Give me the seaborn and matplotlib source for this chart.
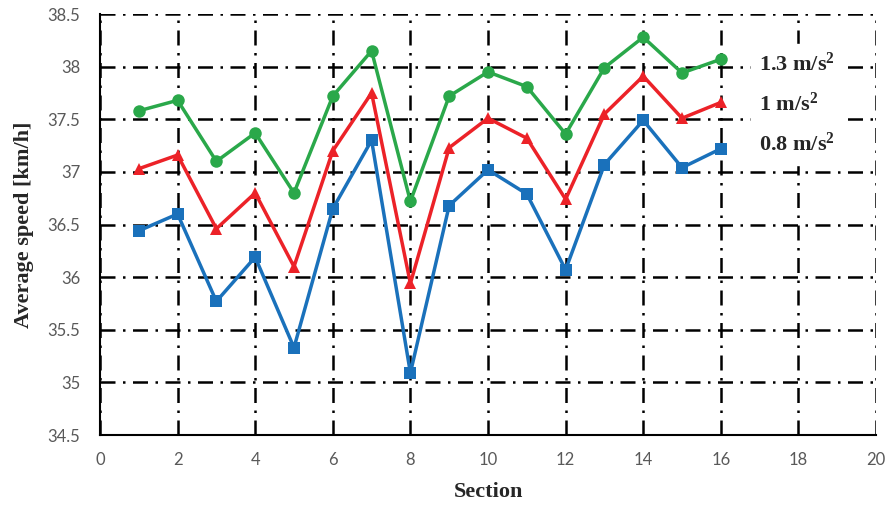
import matplotlib
matplotlib.use("Agg")
import matplotlib.pyplot as plt
from matplotlib.ticker import FuncFormatter, MultipleLocator
import seaborn as sns
import pandas as pd

sections = list(range(1, 17))
speed_13 = [37.58, 37.68, 37.10, 37.37, 36.80, 37.72, 38.15, 36.72,
            37.72, 37.95, 37.81, 37.36, 37.99, 38.28, 37.94, 38.07]
speed_10 = [37.03, 37.16, 36.46, 36.80, 36.10, 37.20, 37.75, 35.94,
            37.23, 37.51, 37.32, 36.74, 37.55, 37.91, 37.51, 37.66]
speed_08 = [36.44, 36.60, 35.77, 36.19, 35.33, 36.65, 37.30, 35.09,
            36.68, 37.02, 36.79, 36.07, 37.07, 37.49, 37.04, 37.22]
labels = [r"1.3 m/s$^{\mathbf{2}}$", r"1 m/s$^{\mathbf{2}}$", r"0.8 m/s$^{\mathbf{2}}$"]

df = pd.concat([
    pd.DataFrame({"Section": sections, "speed": s, "accel": lab})
    for s, lab in zip([speed_13, speed_10, speed_08], labels)
])

sns.set_style("white")
plt.rcParams["font.family"] = ["Lato", "DejaVu Sans"]
plt.rcParams["mathtext.fontset"] = "custom"
plt.rcParams["mathtext.rm"] = "Liberation Serif:bold"
plt.rcParams["mathtext.bf"] = "Liberation Serif:bold"
plt.rcParams["mathtext.it"] = "Liberation Serif:bold"

fig = plt.figure(figsize=(8.91, 5.08), dpi=100)
ax = fig.add_axes([0.1122, 0.1437, 0.871, 0.8287])

palette = {labels[0]: "#2aa84a", labels[1]: "#ec2228", labels[2]: "#1a71bb"}
markers = {labels[0]: "o", labels[1]: "^", labels[2]: "s"}
sns.lineplot(data=df, x="Section", y="speed", hue="accel", style="accel",
             palette=palette, markers=markers, dashes=False, markersize=9,
             linewidth=2.5, markeredgewidth=0, ax=ax, zorder=3)

ax.set_xlim(0, 20)
ax.set_ylim(34.5, 38.5)
ax.xaxis.set_major_locator(MultipleLocator(2))
ax.yaxis.set_major_locator(MultipleLocator(0.5))
ax.yaxis.set_major_formatter(FuncFormatter(lambda v, p: f"{v:g}"))
ax.grid(True, color="black", linewidth=1.8, linestyle=(0, (6, 3, 1, 3)))
ax.set_axisbelow(True)
for side in ["top", "right"]:
    ax.spines[side].set_visible(False)
for side in ["left", "bottom"]:
    ax.spines[side].set_color("black")
    ax.spines[side].set_linewidth(1.5)
ax.tick_params(length=0, labelsize=12, labelcolor="#595959")
ax.tick_params(axis="y", pad=14)
ax.tick_params(axis="x", pad=12)

serif = {"family": "Liberation Serif", "weight": "bold", "size": 16}
ax.set_xlabel("Section", fontdict=serif, labelpad=10)
ax.set_ylabel("Average speed [km/h]", fontdict=serif, labelpad=10)

leg = ax.legend(loc="upper left", bbox_to_anchor=(0.824, 0.955),
                handlelength=0, handletextpad=0, frameon=True,
                prop={"family": "Liberation Serif", "weight": "bold", "size": 16},
                labelspacing=0.75, borderpad=0.4, fancybox=False)
leg.get_frame().set_edgecolor("white")
leg.get_frame().set_alpha(1)
for h in leg.legend_handles:
    h.set_visible(False)

fig.savefig("out.png", dpi=100)
